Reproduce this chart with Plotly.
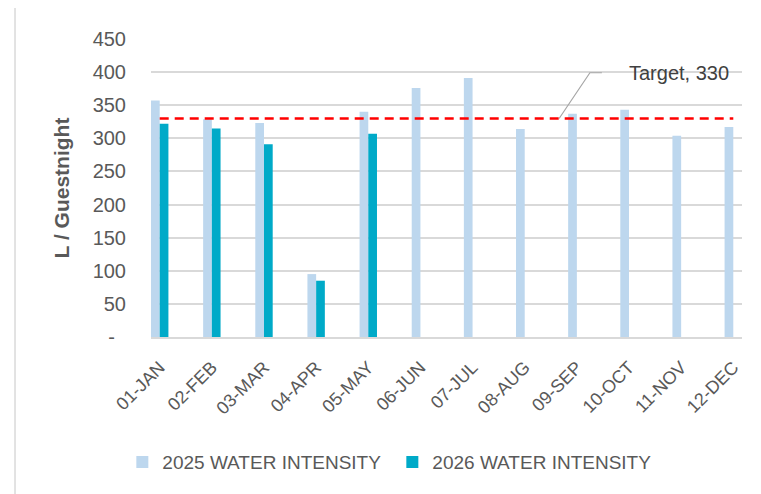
import plotly.graph_objects as go

months = ["01-JAN", "02-FEB", "03-MAR", "04-APR", "05-MAY", "06-JUN",
          "07-JUL", "08-AUG", "09-SEP", "10-OCT", "11-NOV", "12-DEC"]
water_2025 = [357, 329, 323, 95, 340, 376, 391, 314, 337, 343, 304, 317]
water_2026 = [322, 315, 291, 85, 307, None, None, None, None, None, None, None]
TARGET = 330
target_line = [TARGET] * len(months)
y_tickvals = [0, 50, 100, 150, 200, 250, 300, 350, 400, 450]
y_ticktext = ["-\u00a0\u00a0", "50", "100", "150", "200", "250", "300", "350", "400", "450"]

FONT = "Liberation Sans, Arial, sans-serif"
GRAY = "#595959"

fig = go.Figure()
fig.add_trace(go.Bar(x=months, y=water_2025, name="2025 WATER INTENSITY",
                     marker=dict(color="#bdd7ee", line=dict(width=0))))
fig.add_trace(go.Bar(x=months, y=water_2026, name="2026 WATER INTENSITY",
                     marker=dict(color="#00aac8", line=dict(width=0))))
fig.add_trace(go.Scatter(x=months, y=target_line, mode="lines", showlegend=False,
                         line=dict(color="#ff0000", width=2.5, dash="9px,6px"),
                         hoverinfo="skip"))

# leader line for the target label
fig.add_shape(type="path", xref="x", yref="y",
              path=f"M 7.66 {TARGET} L 8.25 399 L 8.48 399",
              line=dict(color="#a6a6a6", width=1.2))
fig.add_annotation(x=9.95, y=398, xref="x", yref="y", text="Target, 330",
                   showarrow=False, font=dict(family=FONT, size=20, color="#404040"))

# chart-area left border
fig.add_shape(type="line", xref="paper", yref="paper", x0=-0.2301, x1=-0.2301,
              y0=-0.6, y1=1.2, line=dict(color="#d9d9d9", width=1.5))

fig.update_layout(
    width=761, height=494,
    margin=dict(l=143, r=27, t=31, b=165, autoexpand=False),
    paper_bgcolor="white", plot_bgcolor="white",
    barmode="group", bargap=0.666, bargroupgap=0,
    font=dict(family=FONT, color=GRAY),
    showlegend=True,
    legend=dict(orientation="h", x=-0.0485, xanchor="left", y=-0.42, yanchor="middle",
                font=dict(family=FONT, size=19, color=GRAY),
                entrywidth=225, entrywidthmode="pixels",
                bgcolor="rgba(0,0,0,0)"),
)
fig.update_xaxes(type="category", range=[-0.167, 11.167], tickangle=-45,
                 tickfont=dict(family=FONT, size=18, color=GRAY),
                 showgrid=False, showline=True, linecolor="#d9d9d9", linewidth=1.5,
                 ticks="", fixedrange=True, automargin=False, ticklabelstandoff=11)
fig.update_yaxes(range=[0, 450], tickvals=y_tickvals, ticktext=y_ticktext,
                 tickfont=dict(family=FONT, size=20, color=GRAY),
                 showgrid=True, gridcolor="#d9d9d9", gridwidth=1.5,
                 zeroline=False, showline=False, ticks="", automargin=False,
                 ticklabelstandoff=24,
                 title=dict(text="<b>L / Guestnight</b>", standoff=17,
                            font=dict(family=FONT, size=21, color=GRAY)))

fig.write_html("out.html")
